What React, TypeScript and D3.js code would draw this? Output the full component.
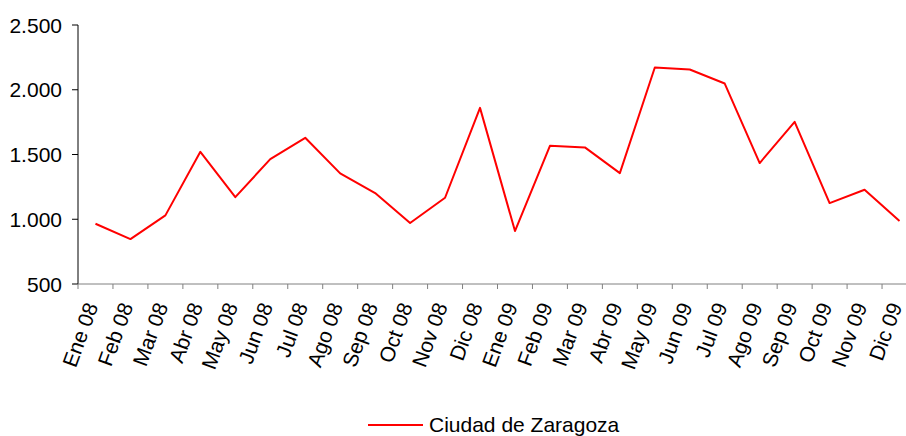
import React from "react";
import * as d3 from "d3";

const categories = [
  "Ene 08", "Feb 08", "Mar 08", "Abr 08", "May 08", "Jun 08", "Jul 08", "Ago 08",
  "Sep 08", "Oct 08", "Nov 08", "Dic 08", "Ene 09", "Feb 09", "Mar 09", "Abr 09",
  "May 09", "Jun 09", "Jul 09", "Ago 09", "Sep 09", "Oct 09", "Nov 09", "Dic 09",
];
const zaragoza = [
  965, 847, 1030, 1521, 1171, 1464, 1629, 1354, 1202, 971, 1166, 1860,
  909, 1567, 1555, 1356, 2172, 2156, 2048, 1434, 1752, 1125, 1228, 986,
];
const yTicks = [500, 1000, 1500, 2000, 2500];
const seriesName = "Ciudad de Zaragoza";

const W = 906;
const H = 436;
const FONT = "'Liberation Sans', Arial, sans-serif";

export default function App() {
  const x = d3.scaleBand<string>().domain(categories).range([78, 917]).paddingInner(0).paddingOuter(0);
  const y = d3.scaleLinear().domain([500, 2500]).range([284, 25]);
  const fmt = (v: number) => d3.format(",")(v).replace(/,/g, ".");
  const line = d3
    .line<number>()
    .x((_, i) => (x(categories[i]) as number) + x.bandwidth() / 2)
    .y((d) => y(d));

  const boundaries = d3.range(categories.length + 1).map((i) => 78 + i * x.bandwidth());

  return (
    <svg width={W} height={H} style={{ position: "absolute", left: 0, top: 0, background: "#fff" }} fontFamily={FONT}>
      {/* y axis */}
      <line x1={78} x2={78} y1={y(2500)} y2={y(500)} stroke="#000" strokeWidth={1} />
      {yTicks.map((t) => (
        <g key={t}>
          <line x1={72} x2={78} y1={y(t)} y2={y(t)} stroke="#000" />
          <text x={62} y={y(t)} dy="0.36em" textAnchor="end" fontSize={21} fill="#000">
            {fmt(t)}
          </text>
        </g>
      ))}
      {/* x axis */}
      <line x1={78} x2={917} y1={284} y2={284} stroke="#808080" strokeWidth={1} />
      {boundaries.map((b, i) => (
        <line key={i} x1={b} x2={b} y1={284} y2={289} stroke="#808080" />
      ))}
      {categories.map((c) => {
        const cx = (x(c) as number) + x.bandwidth() / 2;
        return (
          <text
            key={c}
            transform={`translate(${cx + 3},${306}) rotate(-70)`}
            textAnchor="end"
            fontSize={21}
            fill="#000"
          >
            {c}
          </text>
        );
      })}
      {/* series */}
      <path d={line(zaragoza) || ""} fill="none" stroke="#ff0000" strokeWidth={2} strokeLinejoin="round" />
      {/* legend */}
      <line x1={368} x2={423} y1={425} y2={425} stroke="#ff0000" strokeWidth={2} />
      <text x={429} y={432} fontSize={21} fill="#000">
        {seriesName}
      </text>
    </svg>
  );
}
